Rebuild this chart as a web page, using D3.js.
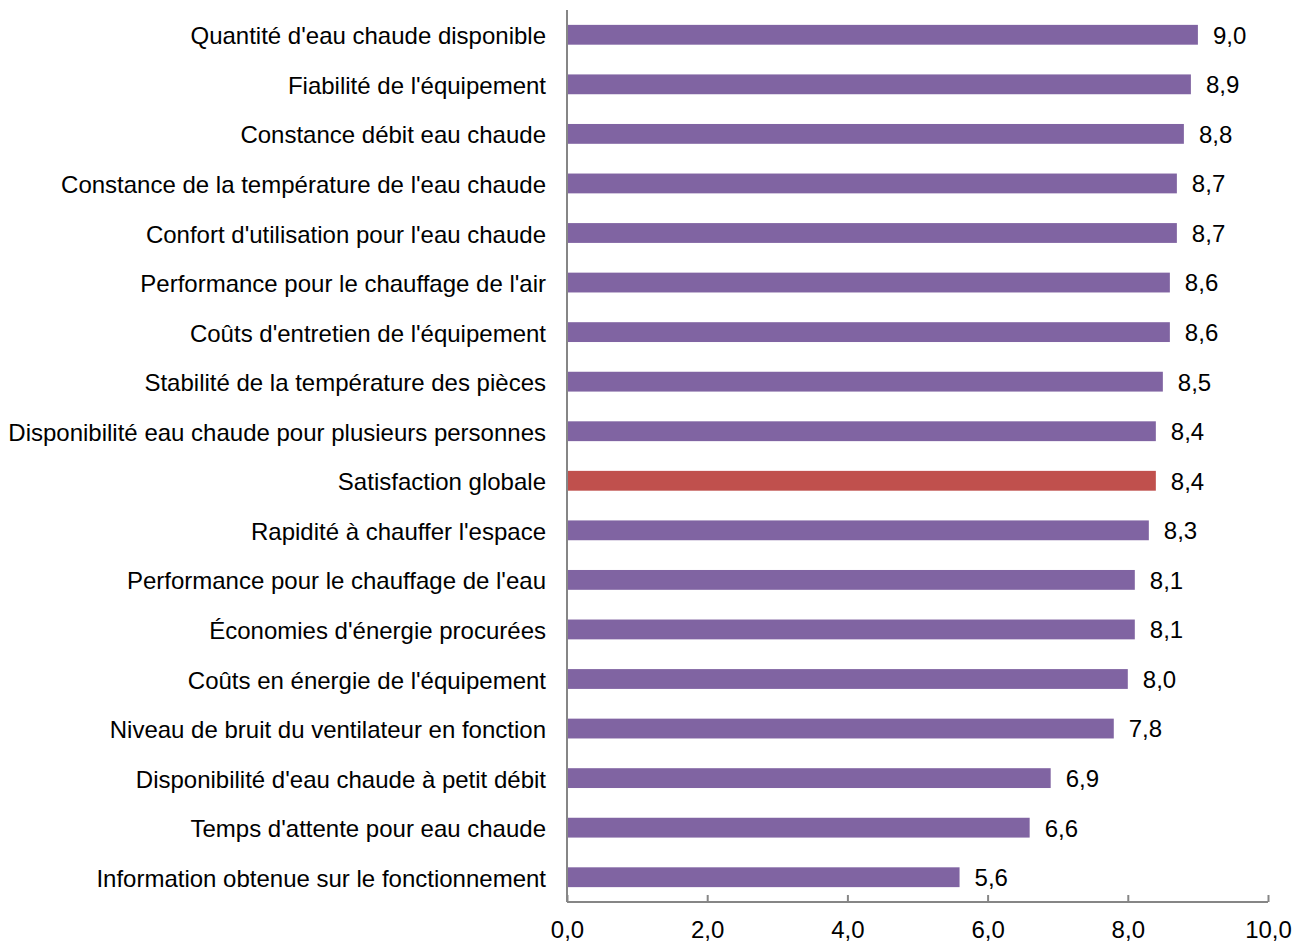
<!DOCTYPE html>
<html>
<head>
<meta charset="utf-8">
<script src="https://cdn.jsdelivr.net/npm/d3@7"></script>
<style>
  html, body { margin: 0; padding: 0; background: #fff; }
  svg text { font-family: "Liberation Sans", Arial, sans-serif; fill: #000; }
</style>
</head>
<body>
<svg id="chart" width="1308" height="943"></svg>
<script>
// Satisfaction scores (0–10) per criterion
const categories = [
  "Quantité d'eau chaude disponible",
  "Fiabilité de l'équipement",
  "Constance débit eau chaude",
  "Constance de la température de l'eau chaude",
  "Confort d'utilisation pour l'eau chaude",
  "Performance pour le chauffage de l'air",
  "Coûts d'entretien de l'équipement",
  "Stabilité de la température des pièces",
  "Disponibilité eau chaude pour plusieurs personnes",
  "Satisfaction globale",
  "Rapidité à chauffer l'espace",
  "Performance pour le chauffage de l'eau",
  "Économies d'énergie procurées",
  "Coûts en énergie de l'équipement",
  "Niveau de bruit du ventilateur en fonction",
  "Disponibilité d'eau chaude à petit débit",
  "Temps d'attente pour eau chaude",
  "Information obtenue sur le fonctionnement"
];
const values = [9.0, 8.9, 8.8, 8.7, 8.7, 8.6, 8.6, 8.5, 8.4, 8.4, 8.3, 8.1, 8.1, 8.0, 7.8, 6.9, 6.6, 5.6];
const highlighted = ["Satisfaction globale"];
const xTicks = [0, 2, 4, 6, 8, 10];

const svg = d3.select("#chart");
const plot = { left: 567, right: 1268, top: 10, bottom: 902 };
const fontSize = 24;

const fmt = v => d3.format(".1f")(v).replace(".", ",");

const x = d3.scaleLinear().domain([0, 10]).range([plot.left, plot.right]);
const y = d3.scaleBand().domain(categories)
  .range([plot.top, plot.bottom])
  .paddingInner(0.6).paddingOuter(0.3);

const axisColor = "#868686";

// bars
svg.append("g").selectAll("rect")
  .data(categories)
  .join("rect")
  .attr("x", x(0))
  .attr("y", d => y(d))
  .attr("width", (d, i) => x(values[i]) - x(0))
  .attr("height", y.bandwidth())
  .attr("fill", d => highlighted.includes(d) ? "#C0504D" : "#8064A2");

// value labels
svg.append("g").selectAll("text")
  .data(categories)
  .join("text")
  .attr("x", (d, i) => x(values[i]) + 15)
  .attr("y", d => y(d) + y.bandwidth() / 2)
  .attr("dy", "0.37em")
  .attr("font-size", fontSize)
  .text((d, i) => fmt(values[i]));

// category labels
svg.append("g").selectAll("text")
  .data(categories)
  .join("text")
  .attr("x", plot.left - 21)
  .attr("y", d => y(d) + y.bandwidth() / 2)
  .attr("dy", "0.4em")
  .attr("text-anchor", "end")
  .attr("font-size", fontSize)
  .text(d => d);

// vertical category axis line
svg.append("line")
  .attr("x1", plot.left).attr("x2", plot.left)
  .attr("y1", plot.top).attr("y2", plot.bottom)
  .attr("stroke", axisColor).attr("stroke-width", 2);

// value axis with inward ticks
const xAxis = d3.axisBottom(x).tickValues(xTicks).tickSize(-7).tickPadding(0).tickFormat(fmt);
const gx = svg.append("g").attr("transform", `translate(0,${plot.bottom})`).call(xAxis);
gx.select(".domain").attr("stroke", axisColor).attr("stroke-width", 2)
  .attr("d", `M${plot.left},0H${plot.right}`);
gx.selectAll(".tick line").attr("stroke", axisColor).attr("stroke-width", 2);
gx.selectAll(".tick text")
  .attr("y", 36)
  .attr("dy", null)
  .attr("font-size", fontSize)
  .attr("font-family", "Liberation Sans, Arial, sans-serif")
  .attr("fill", "#000");
</script>
</body>
</html>
